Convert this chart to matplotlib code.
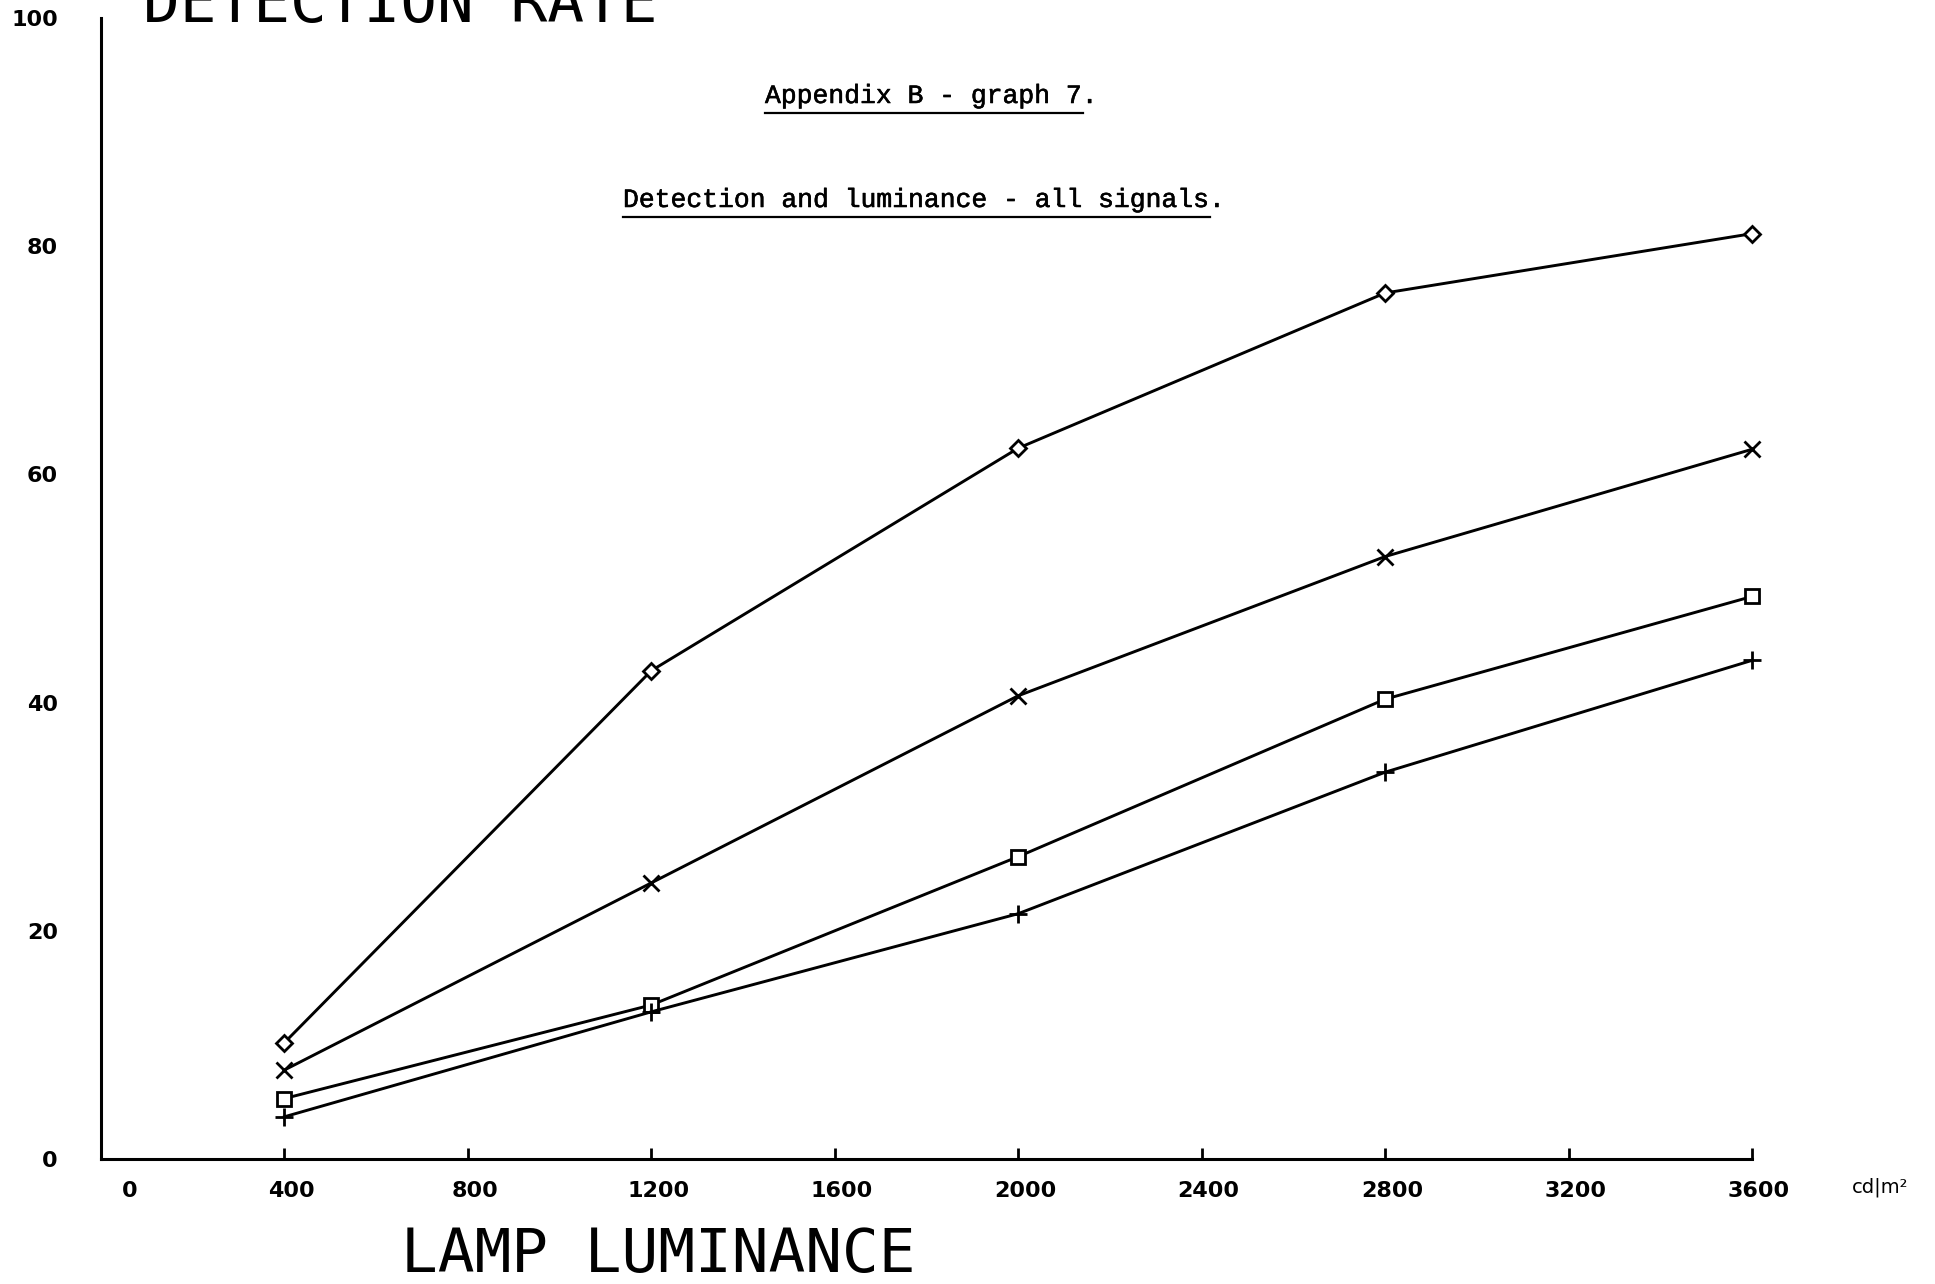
import matplotlib
matplotlib.use("Agg")
import matplotlib.pyplot as plt
import matplotlib.transforms as mtransforms
import matplotlib.patheffects as pe
from matplotlib.lines import Line2D

# Lamp luminance (cd/m2) and detection rate (%) for each signal group
luminance = [400, 1200, 2000, 2800, 3600]
rate_diamond = [10.2, 42.8, 62.3, 75.9, 81.1]
rate_cross = [7.8, 24.2, 40.6, 52.8, 62.2]
rate_square = [5.3, 13.5, 26.5, 40.3, 49.3]
rate_plus = [3.7, 12.9, 21.5, 33.9, 43.7]

x_ticks = [0, 400, 800, 1200, 1600, 2000, 2400, 2800, 3200, 3600]
x_tick_labels = ["0", "400", "800", "1200", "1600", "2000", "2400", "2800", "3200", "3600"]
y_ticks = [0, 20, 40, 60, 80, 100]
y_tick_labels = ["0", "20", "40", "60", "80", "100"]

W, H = 1935, 1284
fig = plt.figure(figsize=(W / 100, H / 100), dpi=100)
fig.patch.set_facecolor("white")

left, right, bottom, top = 101 / W, 1752 / W, 1 - 1159 / H, 1 - 18 / H
ax = fig.add_axes([left, bottom, right - left, top - bottom])
ax.set_xlim(0, 3600)
ax.set_ylim(0, 100)

for s in ("top", "right"):
    ax.spines[s].set_visible(False)
for s in ("left", "bottom"):
    ax.spines[s].set_linewidth(2.2)
    ax.spines[s].set_color("black")

series = [
    (rate_diamond, dict(marker="D", markersize=8)),
    (rate_cross, dict(marker="x", markersize=11)),
    (rate_square, dict(marker="s", markersize=9.5)),
    (rate_plus, dict(marker="+", markersize=13)),
]
for vals, mk in series:
    ax.plot(luminance, vals, color="black", linewidth=2.1,
            markerfacecolor="white", markeredgecolor="black",
            markeredgewidth=2.0, clip_on=False, zorder=3, **mk)

label_font = dict(family="DejaVu Sans", weight="bold", size=16)

# x axis: inward ticks, labels below
ax.set_xticks(x_ticks)
ax.set_xticklabels(x_tick_labels, **label_font)
ax.tick_params(axis="x", direction="in", length=8, width=2.0, pad=16)
for i, lab in enumerate(ax.get_xticklabels()):
    dx = 29 if i == 0 else 7
    lab.set_transform(lab.get_transform() +
                      mtransforms.ScaledTranslation(dx / 100, 0, fig.dpi_scale_trans))

# y axis: labels only, with a short stub at the top
ax.set_yticks(y_ticks)
ax.set_yticklabels(y_tick_labels, **label_font)
ax.tick_params(axis="y", which="major", length=0, pad=31)
ax.set_yticks([100], minor=True)
ax.tick_params(axis="y", which="minor", direction="in", length=12, width=2.2)

# Axis titles in plotter lettering
fig.text(143 / W, 1 - 22 / H, "DETECTION RATE", family="DejaVu Sans Mono",
         size=44, ha="left", va="baseline", color="black")
fig.text(401 / W, 1 - 1272 / H, "LAMP LUMINANCE", family="DejaVu Sans Mono",
         size=44, ha="left", va="baseline", color="black")
fig.text(1880 / W, 1 - 1187 / H, "cd|m\u00b2", family="DejaVu Sans",
         size=14, ha="center", va="center", color="black")

# Typewritten headings, underlined up to the final full stop
renderer = fig.canvas.get_renderer()
stroke = [pe.withStroke(linewidth=0.4, foreground="black")]
for txt, x0, yc, yu in [("Appendix B - graph 7.", 765, 96, 113),
                        ("Detection and luminance - all signals.", 623, 200, 217)]:
    t = fig.text(x0 / W, 1 - yc / H, txt, family="Liberation Mono", size=19,
                 ha="left", va="center", color="black", path_effects=stroke)
    bb = t.get_window_extent(renderer)
    x_end = bb.x0 + bb.width * (len(txt) - 1) / len(txt)
    fig.add_artist(Line2D([bb.x0 / W, x_end / W], [1 - yu / H, 1 - yu / H],
                          transform=fig.transFigure, color="black", linewidth=1.6))

fig.savefig("out.png", dpi=100, facecolor="white")
